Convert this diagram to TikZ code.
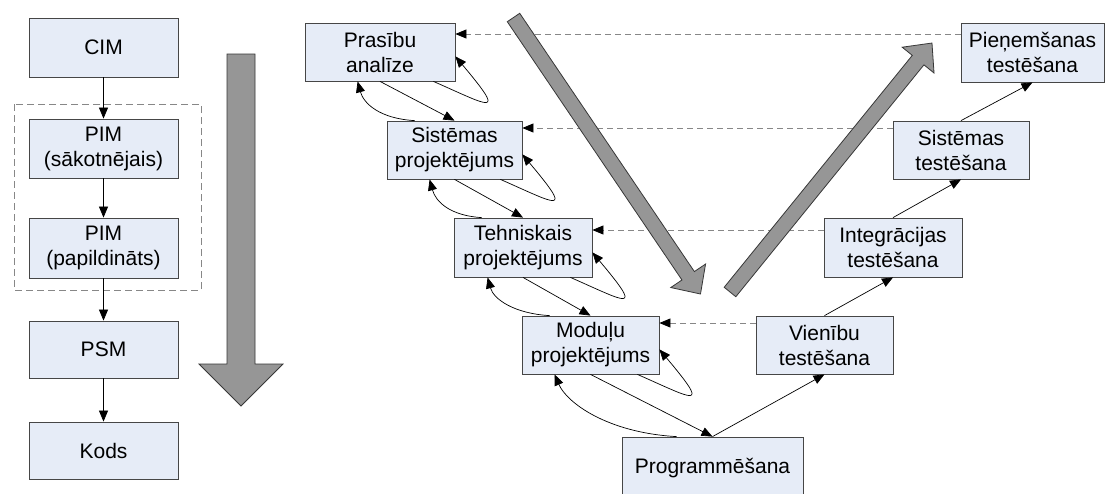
\documentclass[tikz,border=0pt]{standalone}
\usepackage{fontspec}
\setmainfont{Liberation Sans}
\usetikzlibrary{arrows.meta,calc}
\definecolor{boxfill}{RGB}{230,236,247}
\definecolor{boxline}{RGB}{70,70,70}
\definecolor{bigfill}{RGB}{150,150,150}
\definecolor{bigline}{RGB}{55,55,55}
\definecolor{dashgray}{RGB}{135,135,135}
\begin{document}
\begin{tikzpicture}[x=1pt,y=-1pt,
  box/.style={draw=boxline, fill=boxfill, line width=0.8pt, align=center,
    inner sep=0pt, font=\fontsize{21}{25}\selectfont},
  flow/.style={draw=black, line width=0.7pt, -{Triangle[length=11pt,width=9pt]}},
  trace/.style={draw=dashgray, line width=0.8pt, dash pattern=on 6pt off 4pt,
    -{Triangle[length=11pt,width=9pt,color=black]}},
  groupframe/.style={draw=dashgray, line width=0.8pt, dash pattern=on 7pt off 4pt},
  bigarrow/.style={fill=bigfill, draw=bigline, line width=0.8pt, line join=miter}]
\useasboundingbox (0,0) rectangle (1105,493);
\clip (0,0) rectangle (1105,493);

% ---- MDA chain ----
\draw[groupframe] (14,104) rectangle (201,290);
\node[box, minimum width=149pt, minimum height=59pt] (cim)  at (103.5,47.5)  {CIM};
\node[box, minimum width=149pt, minimum height=59pt] (pim1) at (103.5,148.5) {PIM\\(sākotnējais)};
\node[box, minimum width=149pt, minimum height=60pt] (pim2) at (103.5,248)   {PIM\\(papildināts)};
\node[box, minimum width=149pt, minimum height=57pt] (psm)  at (103.5,349.5) {PSM};
\node[box, minimum width=149pt, minimum height=57pt] (kods) at (103.5,450.5) {Kods};

\draw[flow] (cim.south)  -- (pim1.north);
\draw[flow] (pim1.south) -- (pim2.north);
\draw[flow] (pim2.south) -- (psm.north);
\draw[flow] (psm.south)  -- (kods.north);

% ---- V-model: development branch ----
\node[box, minimum width=150pt, minimum height=58pt] (pras) at (380,52)    {Prasību\\analīze};
\node[box, minimum width=135pt, minimum height=58pt] (sis)  at (454.5,150) {Sistēmas\\projektējums};
\node[box, minimum width=138pt, minimum height=59pt] (teh)  at (523,247.5) {Tehniskais\\projektējums};
\node[box, minimum width=137pt, minimum height=58pt] (mod)  at (590.5,345) {Moduļu\\projektējums};
\node[box, minimum width=181pt, minimum height=62pt] (prog) at (712.5,468) {Programmēšana};

% ---- V-model: testing branch ----
\node[box, minimum width=137pt, minimum height=58pt] (vien)    at (824.5,345)  {Vienību\\testēšana};
\node[box, minimum width=138pt, minimum height=59pt] (integ)   at (893,247.5)  {Integrācijas\\testēšana};
\node[box, minimum width=136pt, minimum height=58pt] (sistest) at (961,150)    {Sistēmas\\testēšana};
\node[box, minimum width=143pt, minimum height=59pt] (pien)    at (1032.5,52.5) {Pieņemšanas\\testēšana};

% ---- verification links ----
\coordinate (r1) at (0,34);
\coordinate (r2) at (0,128);
\coordinate (r3) at (0,230);
\coordinate (r4) at (0,323);
\draw[trace] (pien.west |- r1)    -- (pras.east |- r1);
\draw[trace] (sistest.west |- r2) -- (sis.east |- r2);
\draw[trace] (integ.west |- r3)   -- (teh.east |- r3);
\draw[trace] (vien.west |- r4)    -- (mod.east |- r4);

% ---- forward steps ----
\draw[flow] (pras.south) -- (sis.north);
\draw[flow] (sis.south)  -- (teh.north);
\draw[flow] (teh.south)  -- (mod.north);
\draw[flow] (mod.south)  -- (prog.north);
\draw[flow] (prog.north) -- (vien.south);
\draw[flow] (vien.south |- vien.north) -- (integ.south);
\draw[flow] (integ.north) -- (sistest.south);
\draw[flow] (sistest.north) -- (pien.south);

% ---- feedback to the previous phase ----
\draw[flow] ($(sis.north west)+(28,0)$) .. controls +(-35,-2) and +(6,22) .. ($(pras.south west)+(53,0)$);
\draw[flow] ($(teh.north west)+(28,0)$) .. controls +(-32,-2) and +(6,22) .. ($(sis.south west)+(43,0)$);
\draw[flow] ($(mod.north west)+(28,0)$) .. controls +(-35,-2) and +(6,22) .. ($(teh.south west)+(34,0)$);
\draw[flow] ($(prog.north west)+(55,0)$) .. controls +(-70,-4) and +(12,28) .. ($(mod.south west)+(33,0)$);

% ---- iteration within a phase ----
\foreach \b in {pras,sis,teh,mod}
  \draw[flow] ($(\b.south east)+(-22,0)$) .. controls +(57,25) and +(52,62) .. ($(\b.south east)+(0,-25)$);

% ---- large direction arrows ----
\draw[bigarrow] (227,54) -- (255,54) -- (255,364) -- (283,364) -- (241,406)
  -- (199,364) -- (227,364) -- cycle;
\begin{scope}[shift={(513.5,17.5)}, rotate=-55.93]
  \draw[bigarrow] (0,-7.5) -- (311.8,-7.5) -- (311.8,-21) -- (333.8,0)
    -- (311.8,21) -- (311.8,7.5) -- (0,7.5) -- cycle;
\end{scope}
\begin{scope}[shift={(730,292)}, rotate=50.95]
  \draw[bigarrow] (0,-7.5) -- (298.6,-7.5) -- (298.6,-20.5) -- (320.6,0)
    -- (298.6,20.5) -- (298.6,7.5) -- (0,7.5) -- cycle;
\end{scope}
\end{tikzpicture}
\end{document}
